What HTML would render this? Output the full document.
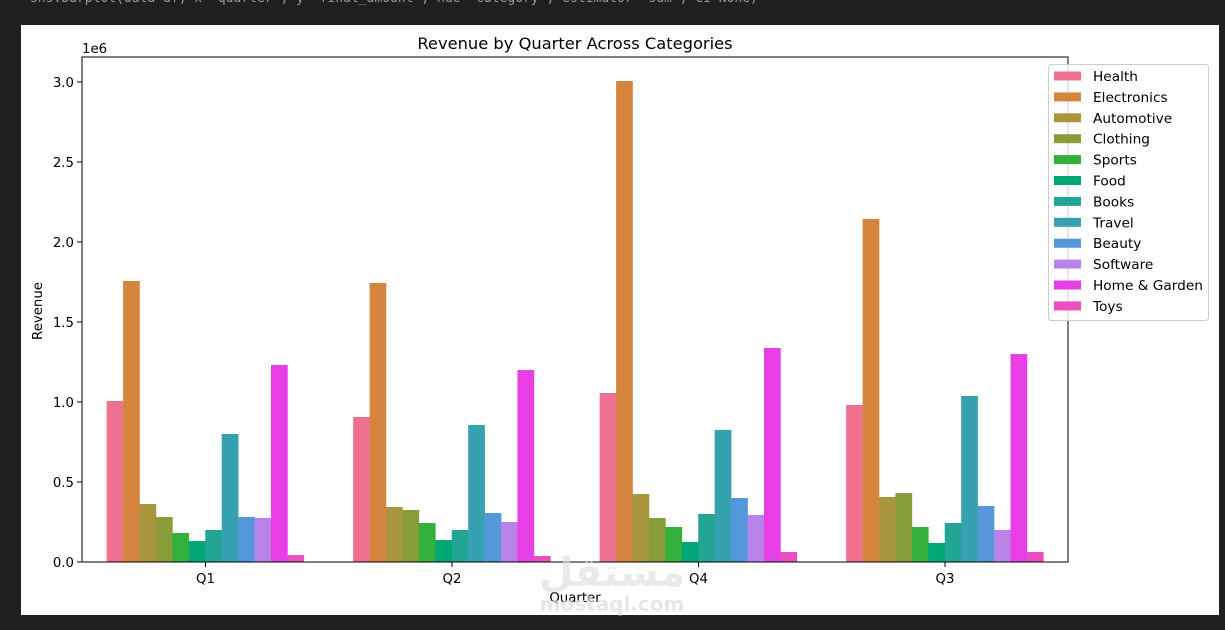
<!DOCTYPE html>
<html><head><meta charset="utf-8"><style>
html,body{margin:0;padding:0;background:#1f1f1f;width:1225px;height:630px;overflow:hidden}
svg{display:block;font-family:"DejaVu Sans","Liberation Sans",sans-serif}
</style></head><body>
<svg width="1225" height="630" xmlns="http://www.w3.org/2000/svg">
<rect width="1225" height="630" fill="#1f1f1f"/>
<text x="30" y="2" font-family="DejaVu Sans Mono,Liberation Mono,monospace" font-size="13" fill="#9a9a9a">sns.barplot(data=df, x='quarter', y='final_amount', hue='category', estimator='sum', ci=None)</text>
<rect x="21" y="25" width="1198" height="590" fill="#fff"/>
<text x="575" y="49" font-size="16.3" text-anchor="middle" fill="#000">Revenue by Quarter Across Categories</text>
<text x="82" y="53" font-size="13.3" fill="#000">1e6</text>
<g id="bars"></g>
<g font-size="13.3" fill="#000" text-anchor="end">
<g stroke="#000"><line x1="77" y1="562" x2="82" y2="562"/><line x1="77" y1="482" x2="82" y2="482"/><line x1="77" y1="402" x2="82" y2="402"/><line x1="77" y1="322" x2="82" y2="322"/><line x1="77" y1="242" x2="82" y2="242"/><line x1="77" y1="162" x2="82" y2="162"/><line x1="77" y1="82" x2="82" y2="82"/></g>
<text x="74" y="567">0.0</text><text x="74" y="487">0.5</text><text x="74" y="407">1.0</text><text x="74" y="327">1.5</text><text x="74" y="247">2.0</text><text x="74" y="167">2.5</text><text x="74" y="87">3.0</text>
</g>
<g font-size="13.3" fill="#000" text-anchor="middle">
<g stroke="#000"><line x1="205.5" y1="562" x2="205.5" y2="567"/><line x1="452" y1="562" x2="452" y2="567"/><line x1="698.5" y1="562" x2="698.5" y2="567"/><line x1="945" y1="562" x2="945" y2="567"/></g>
<text x="205.5" y="583">Q1</text><text x="452" y="583">Q2</text><text x="698.5" y="583">Q4</text><text x="945" y="583">Q3</text>
<text x="575" y="602">Quarter</text>
<text transform="translate(42 311) rotate(-90)">Revenue</text>
</g>
<rect x="82" y="57" width="986" height="505" fill="none" stroke="#000" stroke-width="1"/>
<g id="legend"></g>
<text x="612" y="586" font-size="40" font-weight="bold" fill="#ddd" opacity="0.6" text-anchor="middle">مستقل</text>
<text x="612" y="611" font-size="20" font-weight="bold" fill="#ddd" opacity="0.7" text-anchor="middle">mostaql.com</text>
</svg>
<script>
var cols=["#f0718f","#d6853f","#a9953b","#889d39","#33b03b","#00a877","#22a595","#36a1b1","#5497db","#b982e9","#e83ee6","#ec4ebf"];
var names=["Health","Electronics","Automotive","Clothing","Sports","Food","Books","Travel","Beauty","Software","Home & Garden","Toys"];
var tops=[[401,281,504,517,533,541,530,434,517,518,365,555],[417,283,507,510,523,540,530,425,513,522,370,556],[393,81,494,518,527,542,514,430,498,515,348,552],[405,219,497,493,527,543,523,396,506,530,354,552]];
var ns="http://www.w3.org/2000/svg",g=document.getElementById("bars"),w=197.2/12;
for(var q=0;q<4;q++){var x0=82+246.5*q+24.65;for(var i=0;i<12;i++){var r=document.createElementNS(ns,"rect");r.setAttribute("x",x0+i*w);r.setAttribute("y",tops[q][i]);r.setAttribute("width",w+0.3);r.setAttribute("height",562-tops[q][i]);r.setAttribute("fill",cols[i]);g.appendChild(r);}}
var L=document.getElementById("legend");
var b=document.createElementNS(ns,"rect");b.setAttribute("x",1048.5);b.setAttribute("y",64.5);b.setAttribute("width",160);b.setAttribute("height",256);b.setAttribute("rx",3);b.setAttribute("fill","#fff");b.setAttribute("fill-opacity","0.8");b.setAttribute("stroke","#ccc");L.appendChild(b);
for(var i=0;i<12;i++){var y=76+i*20.9;var p=document.createElementNS(ns,"rect");p.setAttribute("x",1054);p.setAttribute("y",y-4.5);p.setAttribute("width",27);p.setAttribute("height",9);p.setAttribute("fill",cols[i]);L.appendChild(p);
var t=document.createElementNS(ns,"text");t.setAttribute("x",1093);t.setAttribute("y",y+5);t.setAttribute("font-size","13.7");t.textContent=names[i];L.appendChild(t);}
</script>
</body></html>
